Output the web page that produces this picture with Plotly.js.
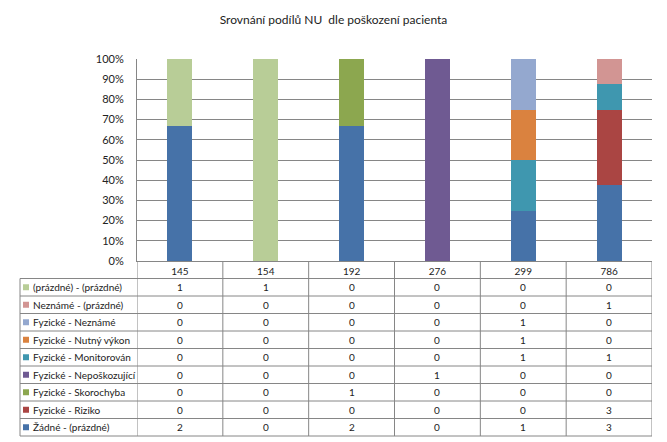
<!DOCTYPE html>
<html>
<head>
<meta charset="utf-8">
<script src="https://cdn.plot.ly/plotly-3.0.1.min.js"></script>
<style>html,body{margin:0;padding:0;background:#fff;}#chart{width:667px;height:442px;}</style>
</head>
<body>
<div id="chart"></div>
<script>
// Data (table order, top row first)
var categories = ['145', '154', '192', '276', '299', '786'];
var seriesNames = [
  '(prázdné) - (prázdné)',
  'Neznámé - (prázdné)',
  'Fyzické - Neznámé',
  'Fyzické - Nutný výkon',
  'Fyzické - Monitorován',
  'Fyzické - Nepoškozující',
  'Fyzické - Skorochyba',
  'Fyzické - Riziko',
  'Žádné - (prázdné)'
];
var prazdnePrazdne   = [1, 1, 0, 0, 0, 0];
var neznamePrazdne   = [0, 0, 0, 0, 0, 1];
var fyzickeNezname   = [0, 0, 0, 0, 1, 0];
var fyzickeNutny     = [0, 0, 0, 0, 1, 0];
var fyzickeMonitor   = [0, 0, 0, 0, 1, 1];
var fyzickeNeposk    = [0, 0, 0, 1, 0, 0];
var fyzickeSkoro     = [0, 0, 1, 0, 0, 0];
var fyzickeRiziko    = [0, 0, 0, 0, 0, 3];
var zadnePrazdne     = [2, 0, 2, 0, 1, 3];
var seriesValues = [prazdnePrazdne, neznamePrazdne, fyzickeNezname, fyzickeNutny,
  fyzickeMonitor, fyzickeNeposk, fyzickeSkoro, fyzickeRiziko, zadnePrazdne];
var seriesColors = ['#B8CD97', '#D29593', '#94A8CF', '#DA823F', '#3F97AF',
  '#6F5A92', '#8CA74F', '#AA4543', '#4672A8'];
var yTickVals = [0, 0.1, 0.2, 0.3, 0.4, 0.5, 0.6, 0.7, 0.8, 0.9, 1];

var FONT = 'Lato, Carlito, "Liberation Sans", sans-serif';
var TXT = '#222222';
var GRID = '#868686';

// plot area geometry (pixels)
var L = 137, R = 652, T = 59, B = 261;
function px2x(px) { return (px - L) / (R - L); }
function px2y(py) { return (B - py) / (B - T); }

// bars: bottom of stack first
var traces = [];
for (var i = seriesNames.length - 1; i >= 0; i--) {
  traces.push({
    type: 'bar',
    name: seriesNames[i],
    x: categories,
    y: seriesValues[i],
    marker: {color: seriesColors[i], line: {width: 0}},
    hoverinfo: 'name+y'
  });
}

var shapes = [];
var annotations = [];
var rowH = 17.5;
var headerBottom = B + rowH;
var nRows = seriesNames.length;
var tableBottom = headerBottom + rowH * nRows;
var tableLeft = 20;

// vertical column lines (through the category axis)
for (var c = 0; c <= categories.length; c++) {
  shapes.push({type: 'line', xref: 'x', yref: 'paper',
    x0: c - 0.5, x1: c - 0.5, y0: 0, y1: px2y(tableBottom),
    line: {color: GRID, width: 1}});
}
// left border of legend column
shapes.push({type: 'line', xref: 'paper', yref: 'paper',
  x0: px2x(tableLeft), x1: px2x(tableLeft), y0: px2y(headerBottom), y1: px2y(tableBottom),
  line: {color: GRID, width: 1}});
// horizontal row lines
for (var r = 0; r <= nRows; r++) {
  var yy = px2y(headerBottom + rowH * r);
  shapes.push({type: 'line', xref: 'paper', yref: 'paper',
    x0: px2x(tableLeft), x1: 1, y0: yy, y1: yy,
    line: {color: GRID, width: 1}});
}

// row content
for (var r2 = 0; r2 < nRows; r2++) {
  var cy = headerBottom + rowH * (r2 + 0.5);
  // legend key
  shapes.push({type: 'rect', xref: 'paper', yref: 'paper',
    x0: px2x(23), x1: px2x(29), y0: px2y(cy - 3), y1: px2y(cy + 3),
    fillcolor: seriesColors[r2], line: {width: 0}});
  annotations.push({xref: 'paper', yref: 'paper', x: px2x(31), y: px2y(cy),
    xanchor: 'left', yanchor: 'middle', showarrow: false,
    text: seriesNames[r2], font: {family: FONT, size: 10, color: TXT}});
  for (var c2 = 0; c2 < categories.length; c2++) {
    annotations.push({xref: 'x', yref: 'paper', x: c2, y: px2y(cy),
      xanchor: 'center', yanchor: 'middle', showarrow: false,
      text: String(seriesValues[r2][c2]), font: {family: FONT, size: 10, color: TXT}});
  }
}

var layout = {
  width: 667, height: 442,
  margin: {l: L, r: 667 - R, t: T, b: 442 - B, pad: 0},
  paper_bgcolor: '#ffffff', plot_bgcolor: '#ffffff',
  title: {text: 'Srovnání podílů NU  dle poškození pacienta',
    font: {family: FONT, size: 12, color: TXT}, x: 0.5, xanchor: 'center',
    y: 1 - 20 / 442, yanchor: 'middle', xref: 'container', yref: 'container'},
  barmode: 'stack', barnorm: 'fraction', bargap: 0.71,
  showlegend: false,
  xaxis: {type: 'category', categoryarray: categories, range: [-0.5, 5.5],
    showgrid: false, zeroline: false, showline: true, linecolor: GRID, linewidth: 1,
    ticks: '', tickfont: {family: FONT, size: 10, color: TXT}, ticklabelstandoff: 1,
    fixedrange: true},
  yaxis: {range: [0, 1], tickvals: yTickVals, tickformat: '.0%',
    showgrid: true, gridcolor: GRID, gridwidth: 1, zeroline: false,
    showline: true, linecolor: GRID, linewidth: 1, ticks: '',
    tickfont: {family: FONT, size: 11, color: TXT}, ticklabelstandoff: 10,
    fixedrange: true},
  shapes: shapes,
  annotations: annotations
};

Plotly.newPlot('chart', traces, layout, {displayModeBar: false, staticPlot: true});
</script>
</body>
</html>
